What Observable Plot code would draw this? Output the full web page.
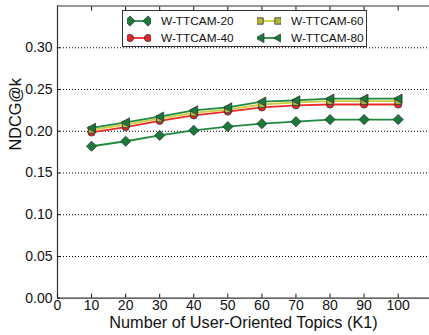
<!DOCTYPE html>
<html><head><meta charset="utf-8">
<script src="https://cdn.jsdelivr.net/npm/d3@7"></script>
<script src="https://cdn.jsdelivr.net/npm/@observablehq/plot@0.6"></script>
<style>
body{margin:0;background:#fff;font-family:"Liberation Sans",Arial,sans-serif;}
#wrap{position:relative;width:429px;height:335px;overflow:hidden;}
#legend{position:absolute;left:122px;top:10px;width:245px;height:37px;border:1px solid #333;background:#fff;box-sizing:border-box;font-size:11.8px;color:#111;}
.item{position:absolute;display:flex;align-items:center;height:16px;}
.item svg{margin-right:10px;}
</style></head><body>
<div id="wrap"><div id="chart"></div><div id="legend"></div></div>
<script>
const topics = [10, 20, 30, 40, 50, 60, 70, 80, 90, 100];
const ttcam20 = [0.182, 0.188, 0.195, 0.201, 0.2055, 0.209, 0.2115, 0.214, 0.214, 0.214];
const ttcam40 = [0.1985, 0.205, 0.2125, 0.219, 0.2235, 0.2285, 0.231, 0.232, 0.232, 0.232];
const ttcam60 = [0.2015, 0.208, 0.215, 0.222, 0.226, 0.232, 0.2345, 0.236, 0.236, 0.236];
const ttcam80 = [0.204, 0.2105, 0.2175, 0.225, 0.2285, 0.2355, 0.237, 0.239, 0.239, 0.239];
const seriesNames = ["W-TTCAM-20", "W-TTCAM-40", "W-TTCAM-60", "W-TTCAM-80"];
const xTicks = [0, 10, 20, 30, 40, 50, 60, 70, 80, 90, 100];
const yTicks = [0.00, 0.05, 0.10, 0.15, 0.20, 0.25, 0.30];
const xLabel = "Number of User-Oriented Topics (K1)";
const yLabel = "NDCG@k";

const leftTriangle = {draw(ctx, size){const h = Math.sqrt(size) * 0.62; ctx.moveTo(-h, 0); ctx.lineTo(h * 0.85, -h); ctx.lineTo(h * 0.85, h); ctx.closePath();}};
const styles = [
  {line: "#1f8a3e", fill: "#1a7a38", symbol: "diamond2", r: 4.6},
  {line: "#ec2a2a", fill: "#e8262a", symbol: "circle", r: 3.6},
  {line: "#cccc3a", fill: "#b5b53a", symbol: "square", r: 3.6},
  {line: "#1f8a3e", fill: "#1a7a38", symbol: leftTriangle, r: 4.2}
];
const allSeries = [ttcam20, ttcam40, ttcam60, ttcam80];
const rows = allSeries.map((vals, i) => topics.map((t, j) => ({series: seriesNames[i], k: t, v: vals[j]})));

const marks = [
  Plot.gridY(yTicks.slice(1), {stroke: "#000", strokeOpacity: 1, strokeDasharray: "1,2", strokeWidth: 1.1}),
  Plot.ruleY([0], {stroke: "#333", strokeWidth: 1.2}),
  Plot.ruleX([0], {stroke: "#333", strokeWidth: 1.2}),
  Plot.ruleY([0.35], {stroke: "#333", strokeWidth: 1.2}),
  Plot.axisX({anchor: "bottom", ticks: xTicks, tickSize: -4, tickPadding: 6, fontSize: 14, label: null}),
  Plot.axisX({anchor: "top", ticks: xTicks.slice(1), tickSize: -4, tickFormat: () => "", label: null}),
  Plot.axisY({anchor: "left", ticks: yTicks, tickSize: -3, tickPadding: 8, tickFormat: d3.format(".2f"), fontSize: 14, label: null}),
  Plot.text([xLabel], {text: d => d, frameAnchor: "bottom", dy: 25, lineAnchor: "middle", fontSize: 16.3, fill: "#111"}),
  Plot.text([yLabel], {text: d => d, frameAnchor: "left", dx: -41.5, dy: -1.5, rotate: -90, lineAnchor: "middle", fontSize: 16.3, fill: "#111"})
];
rows.forEach((data, i) => {
  const s = styles[i];
  marks.push(Plot.line(data, {x: "k", y: "v", stroke: s.line, strokeWidth: 1.8}));
  marks.push(Plot.dot(data, {x: "k", y: "v", symbol: () => s.symbol, r: s.r, fill: s.fill, stroke: "#333", strokeWidth: 0.8}));
});

const chart = Plot.plot({
  width: 429, height: 335,
  marginLeft: 57, marginRight: 0, marginTop: 5.5, marginBottom: 37.3,
  style: {fontFamily: "Liberation Sans, Arial, sans-serif", fontSize: "14px", color: "#111", background: "#fff"},
  x: {domain: [0, 109.2]},
  y: {domain: [0, 0.35]},
  symbol: {type: "identity"},
  marks
});
document.getElementById("chart").appendChild(chart);

// legend
const legend = document.getElementById("legend");
const pos = [[4, 2], [4, 19], [134, 2], [134, 19]];
seriesNames.forEach((name, i) => {
  const s = styles[i];
  const div = document.createElement("div");
  div.className = "item";
  div.style.left = pos[i][0] + "px";
  div.style.top = pos[i][1] + "px";
  const sym = typeof s.symbol === "string" ? {diamond2: d3.symbolDiamond2, circle: d3.symbolCircle, square: d3.symbolSquare}[s.symbol] : s.symbol;
  const path = d3.symbol(sym, Math.PI * s.r * s.r)();
  div.innerHTML = `<svg width="24" height="14"><line x1="2" x2="22" y1="7" y2="7" stroke="${s.line}" stroke-width="1.8"/>` +
    `<path d="${path}" transform="translate(3,7)" fill="${s.fill}" stroke="#333" stroke-width="0.8"/>` +
    `<path d="${path}" transform="translate(21,7)" fill="${s.fill}" stroke="#333" stroke-width="0.8"/></svg><span>${name}</span>`;
  legend.appendChild(div);
});
</script></body></html>
